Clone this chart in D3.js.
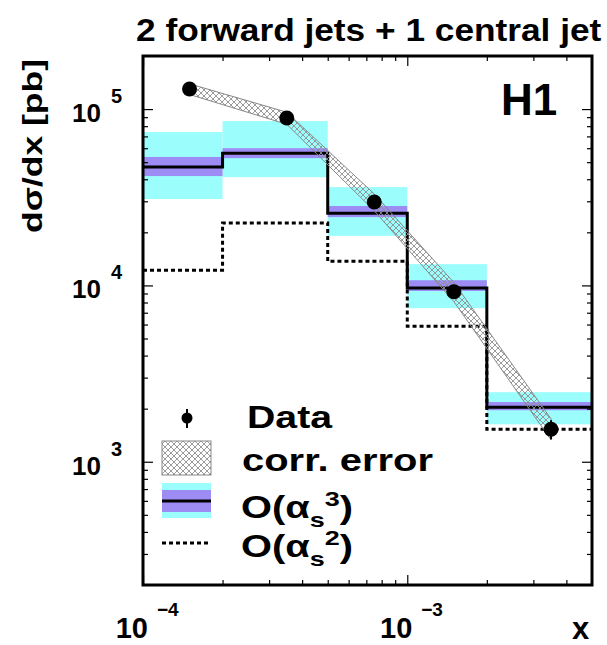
<!DOCTYPE html>
<html>
<head>
<meta charset="utf-8">
<script src="https://d3js.org/d3.v7.min.js"></script>
<style>
  body { margin: 0; background: #fff; }
  svg { display: block; font-family: "Liberation Sans", Arial, sans-serif; font-weight: bold; }
</style>
</head>
<body>
<svg width="607" height="645"></svg>
<script>
// bin edges in x and the data points at bin centres
const xEdges = [1e-4, 2e-4, 5e-4, 1e-3, 2e-3, 5e-3];
const dataX = [1.5e-4, 3.5e-4, 7.5e-4, 1.5e-3, 3.5e-3];
const dataY = [1.30e5, 8.9e4, 2.97e4, 9.2e3, 1.53e3];
const dataErr = [3e3, 2e3, 1.0e3, 5e2, 1.9e2];
// correlated error band
const corrUp = [1.39e5, 9.6e4, 3.3e4, 1.04e4, 1.75e3];
const corrDown = [1.21e5, 8.2e4, 2.65e4, 8.1e3, 1.33e3];
// O(as^3) prediction with its uncertainty bands
const nlo = [4.69e4, 5.62e4, 2.57e4, 9.66e3, 2.04e3];
const nloInnerHi = [5.35e4, 6.0e4, 2.82e4, 1.07e4, 2.18e3];
const nloInnerLo = [4.17e4, 5.27e4, 2.44e4, 9.3e3, 1.96e3];
const nloOuterHi = [7.41e4, 8.55e4, 3.61e4, 1.32e4, 2.48e3];
const nloOuterLo = [3.09e4, 4.11e4, 1.91e4, 7.43e3, 1.63e3];
// O(as^2) prediction
const lo = [1.22e4, 2.26e4, 1.37e4, 5.87e3, 1.53e3];

const xMajor = [1e-4, 1e-3];
const xMajorExp = ["\u22124", "\u22123"];
const yMajor = [1e3, 1e4, 1e5];
const yMajorExp = ["3", "4", "5"];

const pLeft = 143, pRight = 592, pTop = 56, pBottom = 585;
const cyan = "#9cfdfd", purple = "#9c8cf4";

const svg = d3.select("svg");

const x = d3.scaleLog().domain([1e-4, 5e-3]).range([pLeft, pRight]);
const y = d3.scaleLog().domain([200, 2e5]).range([pBottom, pTop]);

// stretch a group of text horizontally to a given width
function fitWidth(g, px, py, target, extra) {
  const w = g.node().getBBox().width;
  g.attr("transform", "translate(" + px + "," + py + ")" + (extra || "") + " scale(" + (target / w) + ",1)");
}

svg.append("clipPath").attr("id", "plotclip")
   .append("rect").attr("x", pLeft).attr("y", pTop)
   .attr("width", pRight - pLeft).attr("height", pBottom - pTop);

const defs = svg.append("defs");
const pat = defs.append("pattern").attr("id", "hatch")
   .attr("patternUnits", "userSpaceOnUse").attr("width", 6).attr("height", 6);
pat.append("path").attr("d", "M0,0 L6,6 M6,0 L0,6 M-1,5 L1,7 M5,-1 L7,1")
   .attr("stroke", "#909090").attr("stroke-width", 0.9).attr("fill", "none");

const plot = svg.append("g").attr("clip-path", "url(#plotclip)");

const bins = d3.range(nlo.length);

// outer (cyan) band
plot.selectAll("rect.outer").data(bins).enter().append("rect")
    .attr("class", "outer")
    .attr("x", i => x(xEdges[i])).attr("width", i => x(xEdges[i + 1]) - x(xEdges[i]))
    .attr("y", i => y(nloOuterHi[i])).attr("height", i => y(nloOuterLo[i]) - y(nloOuterHi[i]))
    .attr("fill", cyan);

// inner (purple) band
plot.selectAll("rect.inner").data(bins).enter().append("rect")
    .attr("class", "inner")
    .attr("x", i => x(xEdges[i])).attr("width", i => x(xEdges[i + 1]) - x(xEdges[i]))
    .attr("y", i => y(nloInnerHi[i])).attr("height", i => y(nloInnerLo[i]) - y(nloInnerHi[i]))
    .attr("fill", purple);

// step lines
function stepPoints(vals) {
  const pts = vals.map((v, i) => [xEdges[i], v]);
  pts.push([xEdges[xEdges.length - 1], vals[vals.length - 1]]);
  return pts;
}
const step = d3.line().x(d => x(d[0])).y(d => y(d[1])).curve(d3.curveStepAfter);

plot.append("path").datum(stepPoints(lo))
    .attr("d", step).attr("fill", "none").attr("stroke", "#000")
    .attr("stroke-width", 3).attr("stroke-dasharray", "4,3");

plot.append("path").datum(stepPoints(nlo))
    .attr("d", step).attr("fill", "none").attr("stroke", "#000")
    .attr("stroke-width", 3);

// correlated error band
const bandPts = dataX.map((v, i) => [v, corrUp[i]])
  .concat(dataX.map((v, i) => [v, corrDown[i]]).reverse());
plot.append("path").datum(bandPts)
    .attr("d", d3.line().x(d => x(d[0])).y(d => y(d[1])).curve(d3.curveLinearClosed))
    .attr("fill", "url(#hatch)").attr("stroke", "#888").attr("stroke-width", 1);

// data points
plot.selectAll("line.err").data(bins).enter().append("line")
    .attr("x1", i => x(dataX[i])).attr("x2", i => x(dataX[i]))
    .attr("y1", i => y(dataY[i] + dataErr[i])).attr("y2", i => y(dataY[i] - dataErr[i]))
    .attr("stroke", "#000").attr("stroke-width", 2);
plot.selectAll("circle.pt").data(bins).enter().append("circle")
    .attr("cx", i => x(dataX[i])).attr("cy", i => y(dataY[i])).attr("r", 7.5)
    .attr("fill", "#000");

// ticks on all four sides, pointing inwards
const xMinor = [2, 3, 4, 5, 6, 7, 8, 9].map(k => k * 1e-4).concat([2e-3, 3e-3, 4e-3]);
const yMinor = [];
[100, 1000, 10000, 100000].forEach(d => [2, 3, 4, 5, 6, 7, 8, 9].forEach(k => {
  const v = k * d; if (v > 200 && v < 2e5) yMinor.push(v);
}));

function addAxis(axis, tx, ty) {
  const g = svg.append("g").attr("transform", "translate(" + tx + "," + ty + ")").call(axis);
  g.select(".domain").remove();
  g.selectAll("text").remove();
  g.selectAll("line").attr("stroke", "#000").attr("stroke-width", 1.2);
}
addAxis(d3.axisRight(y).tickValues(yMajor).tickSize(10), pLeft, 0);
addAxis(d3.axisRight(y).tickValues(yMinor).tickSize(5), pLeft, 0);
addAxis(d3.axisLeft(y).tickValues(yMajor).tickSize(10), pRight, 0);
addAxis(d3.axisLeft(y).tickValues(yMinor).tickSize(5), pRight, 0);
addAxis(d3.axisTop(x).tickValues(xMajor).tickSize(10), 0, pBottom);
addAxis(d3.axisTop(x).tickValues(xMinor).tickSize(5), 0, pBottom);
addAxis(d3.axisBottom(x).tickValues(xMajor).tickSize(10), 0, pTop);
addAxis(d3.axisBottom(x).tickValues(xMinor).tickSize(5), 0, pTop);

// frame
svg.append("rect").attr("x", pLeft).attr("y", pTop)
   .attr("width", pRight - pLeft).attr("height", pBottom - pTop)
   .attr("fill", "none").attr("stroke", "#000").attr("stroke-width", 3);

// y tick labels
yMajor.forEach((v, i) => {
  svg.append("text").attr("x", 101).attr("y", y(v) + 13)
     .attr("text-anchor", "end").attr("font-size", 26).text("10");
  svg.append("text").attr("x", 111).attr("y", y(v) - 6)
     .attr("font-size", 20).text(yMajorExp[i]);
});

// x tick labels
xMajor.forEach((v, i) => {
  svg.append("text").attr("x", x(v) + 5).attr("y", 638)
     .attr("text-anchor", "end").attr("font-size", 29).text("10");
  svg.append("text").attr("x", x(v) + 14).attr("y", 616)
     .attr("font-size", 19).text(xMajorExp[i]);
});

svg.append("text").attr("x", 572).attr("y", 639).attr("font-size", 31).text("x");

// title
const title = svg.append("g");
title.append("text").attr("font-size", 32).text("2 forward jets + 1 central jet");
fitWidth(title, 136, 41, 466);

// H1 label
svg.append("text").attr("x", 501).attr("y", 115).attr("font-size", 44).text("H1");

// y axis title
const ylab = svg.append("g");
const ylt = ylab.append("text").attr("font-size", 28).attr("text-anchor", "middle");
ylt.append("tspan").text("d\u03c3/dx [pb]");
fitWidth(ylab, 42, 146, 174, " rotate(-90)");

// legend
const lg = svg.append("g");
lg.append("line").attr("x1", 187).attr("x2", 187).attr("y1", 409).attr("y2", 428)
  .attr("stroke", "#000").attr("stroke-width", 2);
lg.append("circle").attr("cx", 187).attr("cy", 418).attr("r", 5.5).attr("fill", "#000");

lg.append("rect").attr("x", 162).attr("y", 441).attr("width", 49).attr("height", 34)
  .attr("fill", "url(#hatch)").attr("stroke", "#888").attr("stroke-width", 1);

lg.append("rect").attr("x", 162).attr("y", 483).attr("width", 49).attr("height", 35).attr("fill", cyan);
lg.append("rect").attr("x", 162).attr("y", 490).attr("width", 49).attr("height", 22).attr("fill", purple);
lg.append("line").attr("x1", 162).attr("x2", 211).attr("y1", 501).attr("y2", 501)
  .attr("stroke", "#000").attr("stroke-width", 3);

lg.append("line").attr("x1", 162).attr("x2", 211).attr("y1", 543).attr("y2", 543)
  .attr("stroke", "#000").attr("stroke-width", 3).attr("stroke-dasharray", "4,3");

function legendText(px, py, target, build) {
  const g = lg.append("g");
  const t = g.append("text").attr("font-size", 31);
  build(t);
  fitWidth(g, px, py, target);
}
legendText(247, 428, 86, t => t.text("Data"));
legendText(242, 471, 191, t => t.text("corr. error"));
function orderLabel(n) {
  return t => {
    t.append("tspan").text("O(\u03b1");
    t.append("tspan").attr("font-size", 21).attr("dy", 9).text("s");
    t.append("tspan").attr("font-size", 21).attr("dy", -21).text(n);
    t.append("tspan").attr("dy", 12).text(")");
  };
}
legendText(241, 518, 112, orderLabel("3"));
legendText(241, 557, 112, orderLabel("2"));
</script>
</body>
</html>
